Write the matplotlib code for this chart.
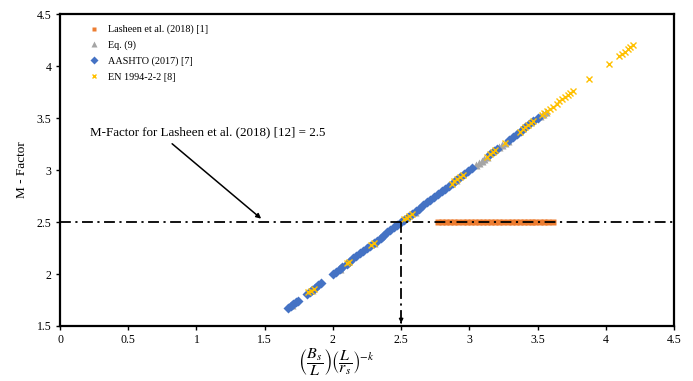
import matplotlib
matplotlib.use('Agg')
import matplotlib.pyplot as plt
from matplotlib.ticker import MultipleLocator, FuncFormatter

plt.rcParams['font.family'] = ['Liberation Serif', 'DejaVu Serif']
plt.rcParams['mathtext.fontset'] = 'stix'

# series
orange_x = [2.77, 2.80, 2.83, 2.86, 2.89, 2.92, 2.95, 2.98, 3.01, 3.04, 3.07, 3.10, 3.13,
            3.16, 3.19, 3.22, 3.25, 3.28, 3.31, 3.34, 3.37, 3.40, 3.43, 3.46, 3.48,
            3.52, 3.55, 3.58, 3.61]
orange_m = [2.5] * len(orange_x)

gray_x = [1.70, 1.85, 2.05, 2.30, 2.60, 2.90, 3.05, 3.07, 3.09, 3.11, 3.13, 3.22, 3.24,
          3.26, 3.28, 3.52, 3.54, 3.56]
gray_m = [1.70, 1.85, 2.05, 2.30, 2.60, 2.90, 3.05, 3.07, 3.09, 3.11, 3.13, 3.22, 3.24,
          3.26, 3.28, 3.52, 3.54, 3.56]

blue_x = [1.67, 1.69, 1.71, 1.73, 1.745, 1.81, 1.83, 1.85, 1.87, 1.89, 1.91, 2.00, 2.02,
          2.05, 2.07, 2.10, 2.12, 2.15, 2.17, 2.20, 2.22, 2.25, 2.27, 2.30, 2.32, 2.35,
          2.37, 2.40, 2.42, 2.45, 2.47, 2.50, 2.52, 2.55, 2.58, 2.61, 2.63, 2.66, 2.69,
          2.71, 2.74, 2.77, 2.80, 2.82, 2.85, 2.88, 2.90, 2.93, 2.96, 2.99, 3.02, 3.15,
          3.18, 3.20, 3.29, 3.32, 3.35, 3.38, 3.41, 3.44, 3.47, 3.50]
blue_m = [1.67, 1.69, 1.71, 1.73, 1.745, 1.81, 1.83, 1.85, 1.87, 1.89, 1.91, 2.00, 2.02,
          2.05, 2.07, 2.10, 2.12, 2.15, 2.17, 2.20, 2.22, 2.25, 2.27, 2.30, 2.32, 2.35,
          2.37, 2.40, 2.42, 2.45, 2.47, 2.50, 2.52, 2.55, 2.58, 2.61, 2.63, 2.66, 2.69,
          2.71, 2.74, 2.77, 2.80, 2.82, 2.85, 2.88, 2.90, 2.93, 2.96, 2.99, 3.02, 3.15,
          3.18, 3.20, 3.29, 3.32, 3.35, 3.38, 3.41, 3.44, 3.47, 3.50]

yellow_x = [1.82, 1.84, 1.86, 2.10, 2.12, 2.28, 2.30, 2.52, 2.54, 2.56, 2.58, 2.87, 2.89,
            2.91, 2.93, 2.95, 3.13, 3.15, 3.17, 3.19, 3.26, 3.37, 3.39, 3.41, 3.43, 3.45,
            3.47, 3.53, 3.55, 3.57, 3.59, 3.61, 3.64, 3.66, 3.68, 3.70, 3.72, 3.74, 3.76,
            3.88, 4.02, 4.10, 4.12, 4.14, 4.16, 4.18, 4.20]
yellow_m = [1.83, 1.84, 1.86, 2.11, 2.12, 2.28, 2.30, 2.53, 2.54, 2.56, 2.58, 2.87, 2.89,
            2.91, 2.93, 2.95, 3.13, 3.15, 3.17, 3.19, 3.26, 3.37, 3.39, 3.41, 3.43, 3.45,
            3.47, 3.53, 3.55, 3.57, 3.59, 3.61, 3.64, 3.66, 3.68, 3.70, 3.72, 3.74, 3.76,
            3.88, 4.02, 4.10, 4.12, 4.14, 4.16, 4.18, 4.20]

m_ref = 2.5
x_ref = 2.5

fig = plt.figure(figsize=(6.93, 3.81), dpi=100)
ax = fig.add_axes([0.0866, 0.1444, 0.886, 0.8186])

ax.plot(orange_x, orange_m, 's', color='#ED7D31', ms=4.2, mec='none', label='Lasheen et al. (2018) [1]')
ax.plot(gray_x, gray_m, '^', color='#A5A5A5', ms=5.5, mec='none', label='Eq. (9)')
ax.plot(blue_x, blue_m, 'D', color='#4472C4', ms=5.5, mec='none', label='AASHTO (2017) [7]')
ax.plot(yellow_x, yellow_m, 'x', color='#FFC000', ms=4.3, mew=1, label='EN 1994-2-2 [8]')

dd = (0, (6, 2.5, 1.2, 2.5))
ax.plot([0, 4.5], [m_ref, m_ref], color='black', lw=1.3, linestyle=dd, zorder=5)
ax.plot([x_ref, x_ref], [m_ref, 1.53], color='black', lw=1.3, linestyle=dd, zorder=5)
ax.annotate('', xy=(x_ref, 1.5), xytext=(x_ref, 1.56),
            arrowprops=dict(arrowstyle='-|>', color='black', lw=1, mutation_scale=6), zorder=6)

ax.text(0.22, 3.365, 'M-Factor for Lasheen et al. (2018) [12] = 2.5', fontsize=9.4,
        va='center', ha='left')
ax.annotate('', xy=(1.49, 2.515), xytext=(0.806, 3.27),
            arrowprops=dict(arrowstyle='-|>', color='black', lw=1.1, mutation_scale=7))

ax.set_xlim(0, 4.5)
ax.set_ylim(1.5, 4.5)
ax.xaxis.set_major_locator(MultipleLocator(0.5))
ax.yaxis.set_major_locator(MultipleLocator(0.5))
fmt = FuncFormatter(lambda v, p: '%g' % v)
ax.xaxis.set_major_formatter(fmt)
ax.yaxis.set_major_formatter(fmt)
ax.tick_params(direction='out', length=3, width=1, labelsize=8.5, pad=3)
for s in ax.spines.values():
    s.set_linewidth(1.6)

ax.set_ylabel('M - Factor', fontsize=9.5)
ax.yaxis.set_label_coords(-0.052, 0.5)
ax.set_xlabel(r'$\left(\dfrac{B_s}{L}\right)\left(\dfrac{L}{r_s}\right)^{-k}$', fontsize=11.5)
ax.xaxis.set_label_coords(0.45, -0.068)
ax.xaxis.label.set_va('top')

ax.legend(loc='upper left', bbox_to_anchor=(0.03, 0.995), frameon=False, fontsize=7.3,
          handlelength=1.2, handletextpad=0.8, labelspacing=0.62, markerscale=0.75)

fig.savefig('out.png', dpi=100)
